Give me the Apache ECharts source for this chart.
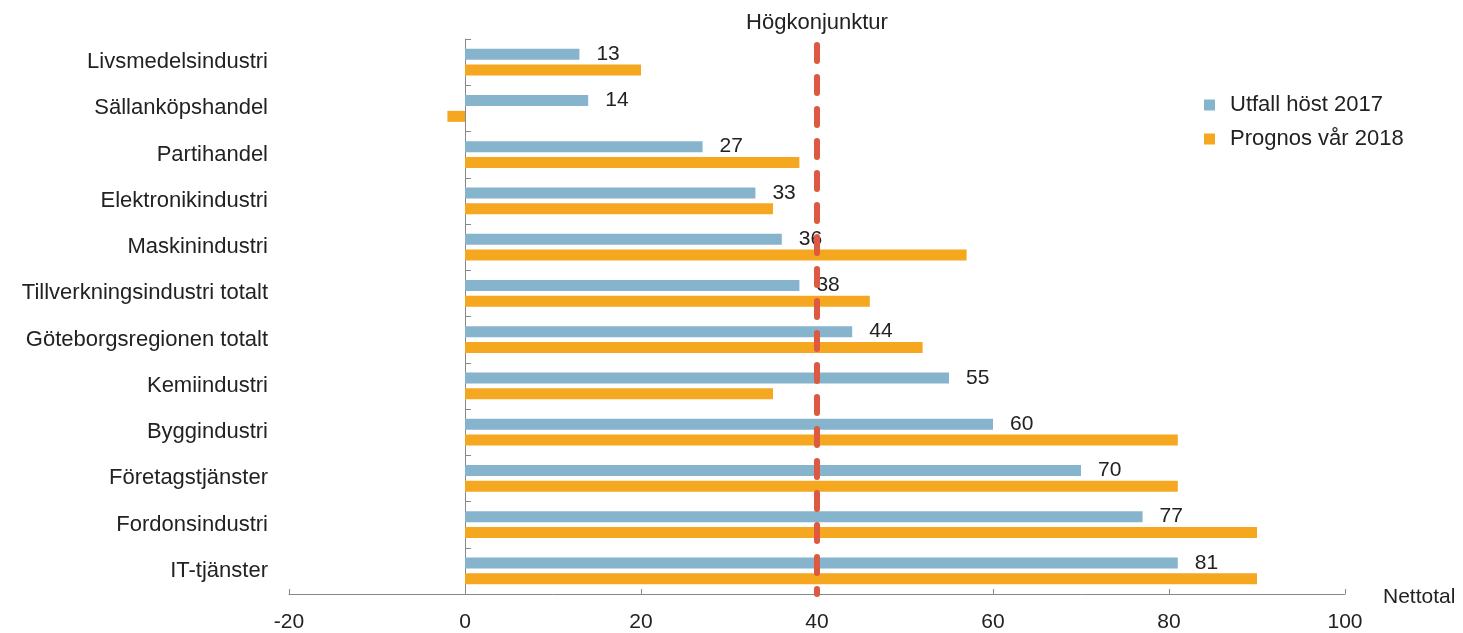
<!DOCTYPE html>
<html>
<head>
<meta charset="utf-8">
<script src="https://cdn.jsdelivr.net/npm/echarts@6/dist/echarts.min.js"></script>
<style>
  html, body { margin: 0; padding: 0; background: #fff; }
  #chart-panel { width: 1463px; height: 633px; }
</style>
</head>
<body>
<div id="chart-panel"></div>
<script>
// branscher, uppifrån och ned
var categories = ['Livsmedelsindustri', 'Sällanköpshandel', 'Partihandel', 'Elektronikindustri',
  'Maskinindustri', 'Tillverkningsindustri totalt', 'Göteborgsregionen totalt', 'Kemiindustri',
  'Byggindustri', 'Företagstjänster', 'Fordonsindustri', 'IT-tjänster'];
var utfall = [13, 14, 27, 33, 36, 38, 44, 55, 60, 70, 77, 81];
var prognos = [20, -2, 38, 35, 57, 46, 52, 35, 81, 81, 90, 90];
var hogkonjunktur = 40;
var xTicks = [-20, 0, 20, 40, 60, 80, 100];

var myChart = echarts.init(document.getElementById('chart-panel'));
var font = 'Liberation Sans, Arial, sans-serif';

var option = {
    textStyle: { fontFamily: font },
    legend: {
        orient: 'vertical',
        left: 1199,
        top: 89,
        itemWidth: 11,
        itemHeight: 11,
        itemGap: 12,
        icon: 'rect',
        textStyle: { fontSize: 22, color: '#222', fontFamily: font, padding: [0, 0, 0, 10] },
        data: ['Utfall höst 2017', 'Prognos vår 2018']
    },
    grid: { left: 289, right: 118, top: 39, bottom: 38, containLabel: false },
    xAxis: {
        type: 'value',
        min: xTicks[0],
        max: xTicks[xTicks.length - 1],
        interval: 20,
        name: 'Nettotal',
        nameLocation: 'end',
        nameGap: 38,
        nameTextStyle: { fontSize: 21, color: '#222', verticalAlign: 'top', lineHeight: 6 },
        axisLine: { show: true, onZero: false, lineStyle: { color: '#888', width: 1 } },
        axisTick: { show: true, inside: true, length: 5, lineStyle: { color: '#888' } },
        axisLabel: { fontSize: 21, color: '#222', margin: 18 },
        splitLine: { show: false }
    },
    yAxis: [{
        type: 'category',
        inverse: true,
        data: categories,
        axisLine: { show: false, onZero: false },
        axisTick: { show: false },
        axisLabel: { fontSize: 22, color: '#222', margin: 21 }
    }, {
        // linjen vid noll
        type: 'category',
        inverse: true,
        position: 'left',
        data: categories,
        axisLine: { show: true, onZero: true, lineStyle: { color: '#888', width: 1 } },
        axisTick: { show: true, inside: true, length: 6, lineStyle: { color: '#888' } },
        axisLabel: { show: false }
    }],
    series: [
        {
            name: 'Utfall höst 2017',
            type: 'bar',
            data: utfall,
            barWidth: 11,
            barGap: '45%',
            itemStyle: { color: '#86b4cc' },
            label: {
                show: true,
                position: 'right',
                distance: 17,
                fontSize: 21,
                color: '#222',
                fontFamily: font
            },
            z: 2
        },
        {
            name: 'Prognos vår 2018',
            type: 'bar',
            data: prognos,
            barWidth: 11,
            itemStyle: { color: '#f5a81f' },
            markLine: {
                silent: true,
                symbol: ['none', 'none'],
                lineStyle: { color: '#dc5a42', width: 6, type: [16, 16], dashOffset: 26, cap: 'round' },
                label: {
                    show: true,
                    position: 'start',
                    distance: 5,
                    formatter: 'Högkonjunktur',
                    fontSize: 22,
                    color: '#222',
                    fontFamily: font
                },
                data: [{ xAxis: hogkonjunktur }]
            },
            z: 3
        }
    ]
};
myChart.setOption(option);
</script>
</body>
</html>
